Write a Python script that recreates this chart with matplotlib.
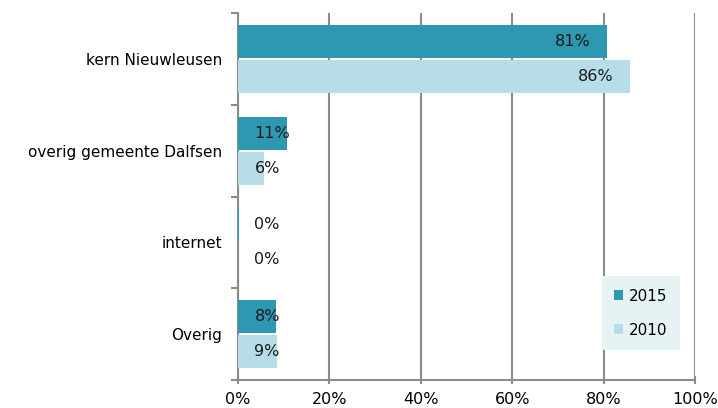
import numpy as np
import matplotlib.pyplot as plt
from matplotlib.ticker import FixedLocator, PercentFormatter

categories = ['kern Nieuwleusen', 'overig gemeente Dalfsen', 'internet', 'Overig']
values_2015 = [80.8, 10.7, 0.3, 8.3]
values_2010 = [85.8, 5.7, 0.0, 8.5]
labels_2015 = ['81%', '11%', '0%', '8%']
labels_2010 = ['86%', '6%', '0%', '9%']

c2015 = '#2E98B2'
c2010 = '#B7DEE8'
grid_c = '#8C8C8C'
fs = 11.5

plt.rcParams['font.family'] = ['DejaVu Sans']
fig = plt.figure(figsize=(7.18, 4.08), dpi=100)
ax = fig.add_axes([238 / 718, 28 / 408, 457 / 718, 367 / 408])

y = np.arange(len(categories))
h = 0.36
off = 0.19
ax.barh(y - off, values_2015, height=h, color=c2015, label='2015', zorder=3)
ax.barh(y + off, values_2010, height=h, color=c2010, label='2010', zorder=3)


def put_labels(ys, vals, labs):
    for yy, v, t in zip(ys, vals, labs):
        if v < 15:
            ax.text(3.6, yy, t, ha='left', va='center', fontsize=fs,
                    color='#1a1a1a', zorder=4)
        else:
            ax.text(v - 3.6, yy, t, ha='right', va='center', fontsize=fs,
                    color='#1a1a1a', zorder=4)


put_labels(y - off, values_2015, labels_2015)
put_labels(y + off, values_2010, labels_2010)

ax.set_xlim(0, 100)
ax.set_ylim(3.5, -0.5)
ax.set_xticks(np.arange(0, 101, 20))
ax.xaxis.set_major_formatter(PercentFormatter(decimals=0))
ax.set_yticks(y)
ax.set_yticklabels(categories, fontsize=11)
ax.yaxis.set_minor_locator(FixedLocator([-0.5, 0.5, 1.5, 2.5, 3.5]))
ax.tick_params(axis='y', which='major', length=0, pad=11.5)
ax.tick_params(axis='y', which='minor', length=5, width=1.5, color=grid_c, direction='out')
ax.tick_params(axis='x', length=6, width=1.5, color=grid_c, direction='inout', labelsize=fs, pad=6)
ax.xaxis.grid(True, color=grid_c, linewidth=1.5, zorder=0)
ax.set_axisbelow(True)

for s in ['top', 'right']:
    ax.spines[s].set_visible(False)
for s in ['left', 'bottom']:
    ax.spines[s].set_color(grid_c)
    ax.spines[s].set_linewidth(1.5)

leg = ax.legend(loc='lower right', bbox_to_anchor=(0.967, 0.082), fontsize=11,
                frameon=True, fancybox=False, handlelength=0.6, handleheight=0.6,
                handletextpad=0.4, labelspacing=1.25, borderpad=0.8, borderaxespad=0)
leg.get_frame().set_facecolor('#E6F3F5')
leg.get_frame().set_edgecolor('none')
leg.get_frame().set_alpha(1)

fig.savefig('out.png', dpi=100)
